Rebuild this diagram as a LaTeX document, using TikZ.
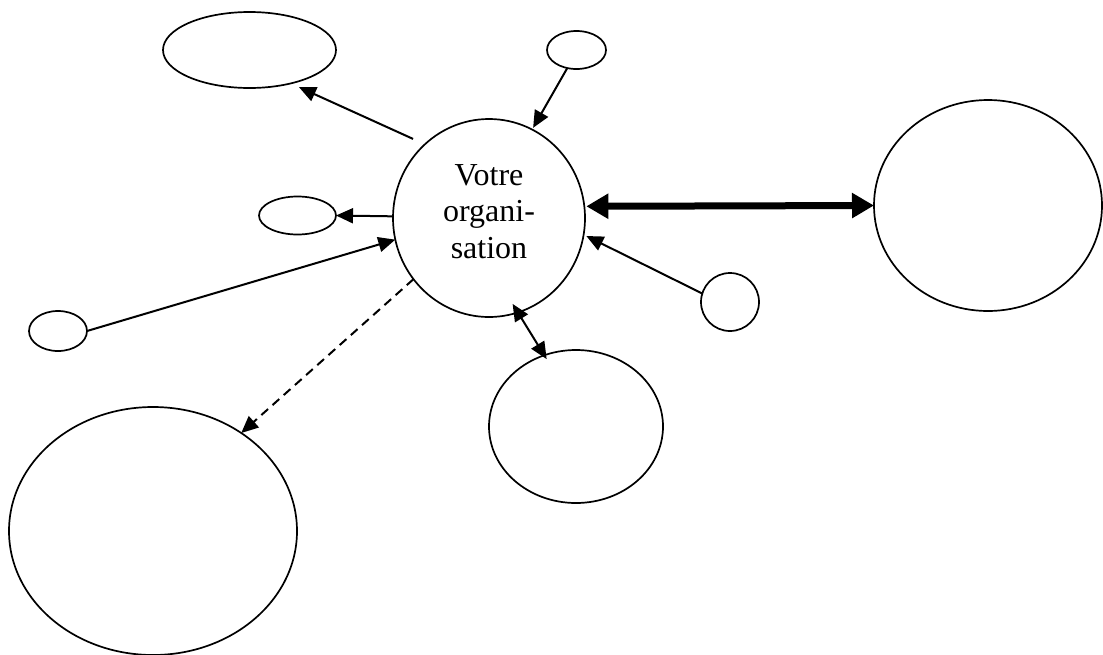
\documentclass[tikz,border=0pt]{standalone}
\usepackage{fontspec}
\setmainfont{Liberation Serif}
\usetikzlibrary{shapes.geometric,arrows.meta}
\tikzset{
  bubble/.style={draw, ellipse, line width=1.7pt, inner sep=0pt, outer sep=0pt},
  arr/.style={line width=2pt, -{Triangle[length=17pt,width=15pt]}},
  arrboth/.style={line width=2pt, {Triangle[length=17pt,width=15pt]}-{Triangle[length=17pt,width=15pt]}},
  thickarr/.style={line width=7pt, {Triangle[length=22pt,width=24pt]}-{Triangle[length=22pt,width=24pt]}},
  dashedarr/.style={line width=2pt, dash pattern=on 9pt off 6pt, -{Triangle[length=17pt,width=15pt]}},
}
\begin{document}
\begin{tikzpicture}[x=1pt,y=-1pt]
\useasboundingbox (0,0) rectangle (1103,654);
% nodes
\node[bubble, minimum width=192pt, minimum height=198pt, align=center,
      font=\fontsize{32}{36.5}\selectfont, text height=93pt, text depth=13pt]
      (org) at (489,218) {Votre\\organi-\\sation};
\node[bubble, minimum width=173pt, minimum height=76pt] (tl) at (249.5,50) {};
\node[bubble, minimum width=59pt, minimum height=38pt] (st) at (576.5,50) {};
\node[bubble, minimum width=228pt, minimum height=211pt] (re) at (988,205.5) {};
\node[bubble, minimum width=77pt, minimum height=38pt] (sl) at (297.5,215.5) {};
\node[bubble, minimum width=58pt, minimum height=40pt] (fl) at (58,331) {};
\node[bubble, minimum width=58pt, minimum height=58pt] (sc) at (730,302) {};
\node[bubble, minimum width=174pt, minimum height=153pt] (be) at (576,426.5) {};
\node[bubble, minimum width=288pt, minimum height=248pt] (bl) at (153,531) {};
% connectors
\draw[arr, shorten <=13pt, shorten >=9pt] (org.131) -- (tl.-39);
\draw[arr, shorten >=2pt] (st.-117) -- (org.64);
\draw[arr] (org.179) -- (sl.east);
\draw[arr] (fl.east) -- (org.193);
\draw[dashedarr] (org.219) -- (bl.48);
\draw[arrboth, shorten <=-10pt, shorten >=-4.5pt] (org.-73) -- (be.114);
\draw[thickarr, shorten <=2pt] (org.7) -- (re.west);
\draw[arr, shorten >=3pt] (sc.163) -- (org.-10);
\end{tikzpicture}
\end{document}
